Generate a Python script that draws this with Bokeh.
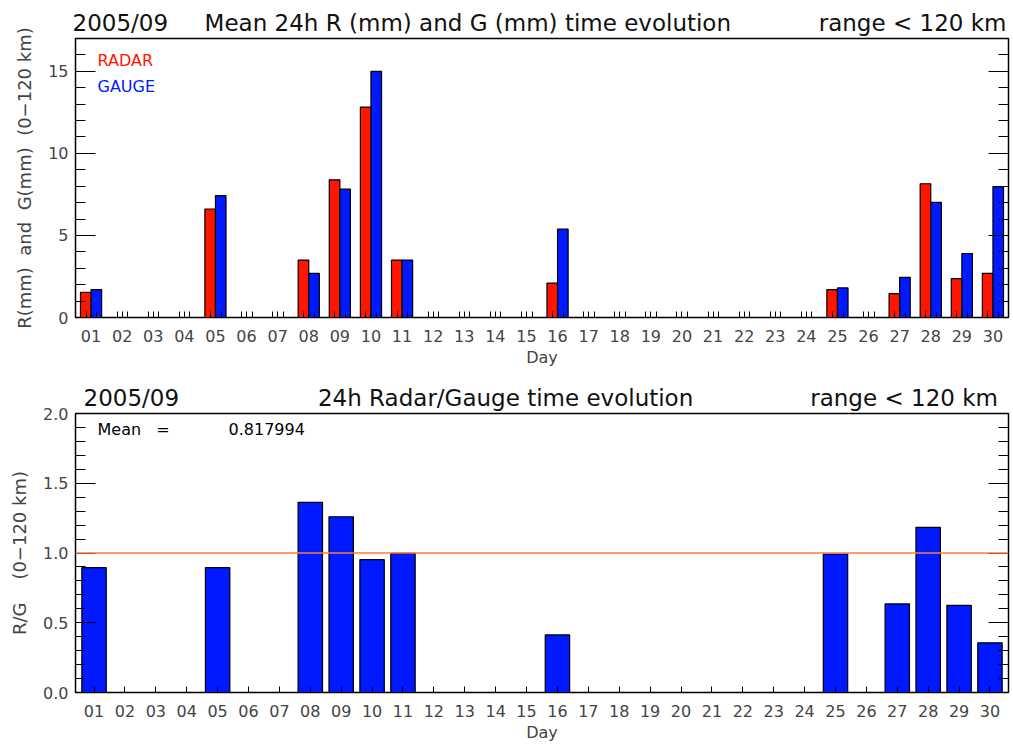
from bokeh.plotting import figure
from bokeh.layouts import column
from bokeh.models import (ColumnDataSource, FixedTicker, LinearAxis, Label, Span, Range1d, Title)
from bokeh.transform import dodge
from bokeh.embed import file_html
from bokeh.resources import INLINE

# ---------------- data ----------------
days = list(range(1, 31))
day_labels = ["%02d" % d for d in days]
radar = [1.54, 0, 0, 0, 6.61, 0, 0, 3.50, 8.39, 12.82, 3.50, 0, 0, 0, 0, 2.10,
         0, 0, 0, 0, 0, 0, 0, 0, 1.70, 0, 1.46, 8.15, 2.37, 2.69]
gauge = [1.70, 0, 0, 0, 7.42, 0, 0, 2.69, 7.82, 15.0, 3.50, 0, 0, 0, 0, 5.38,
         0, 0, 0, 0, 0, 0, 0, 0, 1.80, 0, 2.45, 7.01, 3.90, 7.98]
ratio = [0.895, 0, 0, 0, 0.895, 0, 0, 1.363, 1.26, 0.952, 0.998, 0, 0, 0, 0, 0.413,
         0, 0, 0, 0, 0, 0, 0, 0, 0.993, 0, 0.635, 1.184, 0.625, 0.356]
top_yticks = [0, 5, 10, 15]
top_ylabels = ["0", "5", "10", "15"]
bot_yticks = [0, 0.5, 1.0, 1.5, 2.0]
bot_ylabels = ["0.0", "0.5", "1.0", "1.5", "2.0"]
mean_text = "0.817994"
month = "2005/09"
top_title = "Mean 24h R (mm) and G (mm) time evolution"
bot_title = "24h Radar/Gauge time evolution"
range_text = "range < 120 km"

FONT = "DejaVu Sans"
RED = "#ff1500"
BLUE = "#0019ff"
ORANGE = "#f08040"
NB = "\u00a0"

W, H = 1013, 372
FL, FR = 75, 1008  # frame left/right in pixels


def style_axes(p, y_major, y_labels, y_minor, x_minor):
    p.xaxis.ticker = FixedTicker(ticks=days, minor_ticks=x_minor)
    p.xaxis.major_label_overrides = {d: l for d, l in zip(days, day_labels)}
    p.xaxis.major_tick_in = 6
    p.xaxis.major_tick_out = 0
    p.xaxis.minor_tick_in = 6
    p.xaxis.minor_tick_out = 0
    p.xaxis.axis_label = "Day"
    p.xaxis.axis_label_text_font = FONT
    p.xaxis.axis_label_text_font_style = "normal"
    p.xaxis.axis_label_text_font_size = "16px"
    p.xaxis.axis_label_standoff = 3
    p.xaxis.major_label_text_font = FONT
    p.xaxis.major_label_text_font_size = "16px"
    p.xaxis.major_label_standoff = 12
    for i, ax in enumerate(p.yaxis):
        ax.ticker = FixedTicker(ticks=y_major, minor_ticks=y_minor)
        ax.major_tick_in = 20
        ax.major_tick_out = 0
        ax.minor_tick_in = 10
        ax.minor_tick_out = 0
        ax.major_label_text_font = FONT
        ax.major_label_text_font_size = "16px"
        ax.major_label_standoff = 7
        ax.axis_label_text_font = FONT
        ax.axis_label_text_font_style = "normal"
        ax.axis_label_text_font_size = "18px"
        ax.axis_label_standoff = 10
        if i == 0:
            ax.major_label_overrides = {t: l for t, l in zip(y_major, y_labels)}
        else:
            ax.major_label_overrides = {t: "" for t in y_major}
            ax.major_label_standoff = 0


def add_text(p, px, py, txt, size, color="black", align="left"):
    # convert pixel position within this figure's frame to data coordinates
    xr, yr = p.x_range, p.y_range
    ft, fb = p.min_border_top, H - p.min_border_bottom
    x = xr.start + (px - FL) * (xr.end - xr.start) / (FR - FL)
    y = yr.start + (fb - py) * (yr.end - yr.start) / (fb - ft)
    p.add_layout(Label(x=x, y=y, text=txt, text_font=FONT, text_font_size=size,
                       text_color=color, text_align=align, text_baseline="middle"))


def make_title(text, offset):
    return Title(text=text, align="left", offset=offset, text_font=FONT,
                 text_font_size="23px", text_font_style="normal", text_color="#111111",
                 standoff=5)


src = ColumnDataSource(dict(day=days, radar=radar, gauge=gauge, ratio=ratio))

# ---------------- top panel ----------------
p1 = figure(width=W, height=H, output_backend="svg", toolbar_location=None,
            x_range=Range1d(0.5, 30.5), y_range=Range1d(0, 17),
            min_border_left=FL, min_border_right=W - FR, min_border_top=38, min_border_bottom=55,
            outline_line_color="black", outline_line_width=1.5,
            title=make_title(month + NB * 5 + top_title + NB * 12 + range_text, -3))
p1.grid.visible = False
p1.vbar(x=dodge("day", -0.17, range=p1.x_range), top="radar", width=0.34, source=src,
        fill_color=RED, line_color="black", line_width=1.2)
p1.vbar(x=dodge("day", 0.17, range=p1.x_range), top="gauge", width=0.34, source=src,
        fill_color=BLUE, line_color="black", line_width=1.2)
p1.add_layout(LinearAxis(), "right")
style_axes(p1, top_yticks, top_ylabels, list(range(0, 18)),
           [d + o for d in days for o in (-0.16, 0.18)])
p1.yaxis[0].axis_label = "R(mm)" + NB + " and" + NB + " G(mm)" + NB + " (0\u2212120 km)"

add_text(p1, 97, 60, "RADAR", "16px", RED)
add_text(p1, 97, 86, "GAUGE", "16px", BLUE)

# ---------------- bottom panel ----------------
p2 = figure(width=W, height=H, output_backend="svg", toolbar_location=None,
            x_range=Range1d(0.4, 30.6), y_range=Range1d(0, 2),
            min_border_left=FL, min_border_right=W - FR, min_border_top=41, min_border_bottom=51,
            outline_line_color="black", outline_line_width=1.5,
            title=make_title(month + NB * 19 + bot_title + NB * 16 + range_text, 8))
p2.grid.visible = False
p2.vbar(x="day", top="ratio", width=0.79, source=src, fill_color=BLUE,
        line_color="black", line_width=1.2)
p2.add_layout(Span(location=1.0, dimension="width", line_color=ORANGE, line_width=1.5))
p2.add_layout(LinearAxis(), "right")
style_axes(p2, bot_yticks, bot_ylabels, [i / 10 for i in range(0, 21)], [])
p2.yaxis[0].axis_label = "R/G" + NB * 3 + " (0\u2212120 km)"

add_text(p2, 97, 57, "Mean" + NB * 2 + " =", "16px")
add_text(p2, 228, 57, mean_text, "16px")

layout = column(p1, p2, spacing=0)
open("out.html", "w").write(file_html(layout, INLINE))
